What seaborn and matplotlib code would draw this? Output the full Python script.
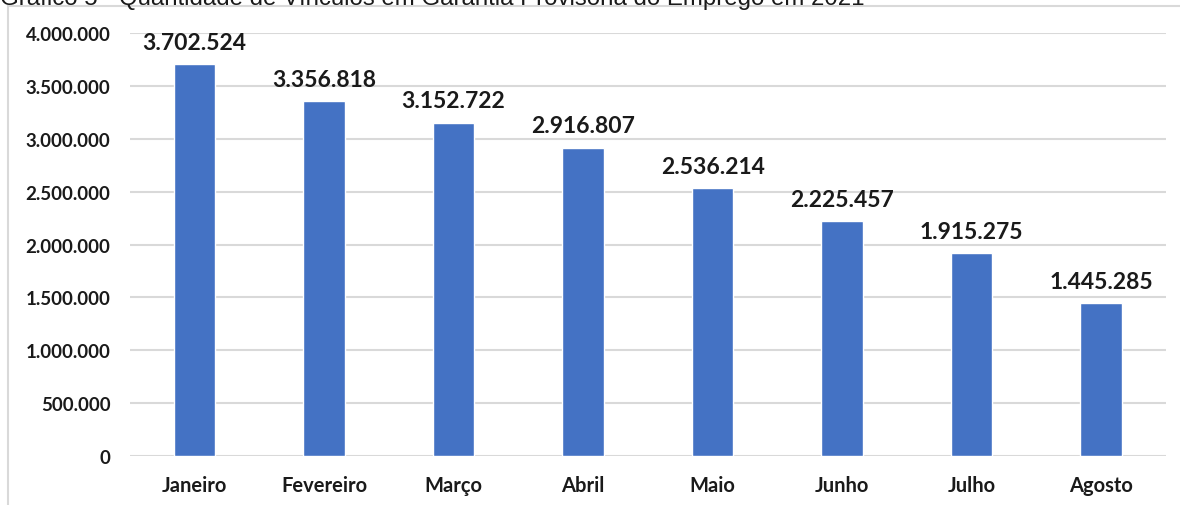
import numpy as np
import pandas as pd
import seaborn as sns
import matplotlib.pyplot as plt
from matplotlib.patches import Rectangle
from matplotlib.ticker import FuncFormatter

meses = ['Janeiro', 'Fevereiro', 'Março', 'Abril', 'Maio', 'Junho', 'Julho', 'Agosto']
vinculos = [3702524, 3356818, 3152722, 2916807, 2536214, 2225457, 1915275, 1445285]
titulo = 'Gráfico 5 - Quantidade de Vínculos em Garantia Provisória do Emprego em 2021'

df = pd.DataFrame({'Mês': meses, 'Vínculos': vinculos})


def fmt_br(v):
    return f'{int(round(v)):,}'.replace(',', '.')


sns.set_theme(style='white')
plt.rcParams['font.family'] = ['Lato', 'DejaVu Sans']

fig = plt.figure(figsize=(11.8, 5.06), dpi=100)
ax = fig.add_axes([0.110, 0.0968, 0.878, 0.836])

# moldura do gráfico
fig.patches.append(Rectangle((8 / 1180, -0.01), 1.2, (506 - 7) / 506 + 0.01,
                             transform=fig.transFigure, fill=False,
                             edgecolor='#d9d9d9', linewidth=1.5))

sns.barplot(data=df, x='Mês', y='Vínculos', color='#4472C4', width=0.32,
            saturation=1, ax=ax)

ax.set_ylim(0, 4000000)
ax.set_xlim(-0.5, 7.5)
ax.set_yticks(np.arange(0, 4000001, 500000))
ax.yaxis.set_major_formatter(FuncFormatter(lambda v, p: fmt_br(v)))
ax.grid(axis='y', color='#d9d9d9', linewidth=1.5)
ax.set_axisbelow(True)
for s in ax.spines.values():
    s.set_visible(False)
ax.set_xlabel('')
ax.set_ylabel('')
ax.tick_params(axis='y', length=0, pad=14, labelsize=13.5)
ax.tick_params(axis='x', length=0, pad=14, labelsize=14.5)
for lab in ax.get_xticklabels() + ax.get_yticklabels():
    lab.set_fontweight('bold')
    lab.set_color('#1a1a1a')

for i, v in enumerate(vinculos):
    ax.annotate(fmt_br(v), (i, v), xytext=(0, 8), textcoords='offset points',
                ha='center', va='bottom', fontsize=16.5, fontweight='bold',
                color='#1a1a1a')

fig.text(0.0, 1 - 5 / 506, titulo, ha='left', va='baseline', fontsize=17.3,
         family=['Liberation Sans', 'DejaVu Sans'], color='#1a1a1a')

fig.savefig('out.png', dpi=100)
